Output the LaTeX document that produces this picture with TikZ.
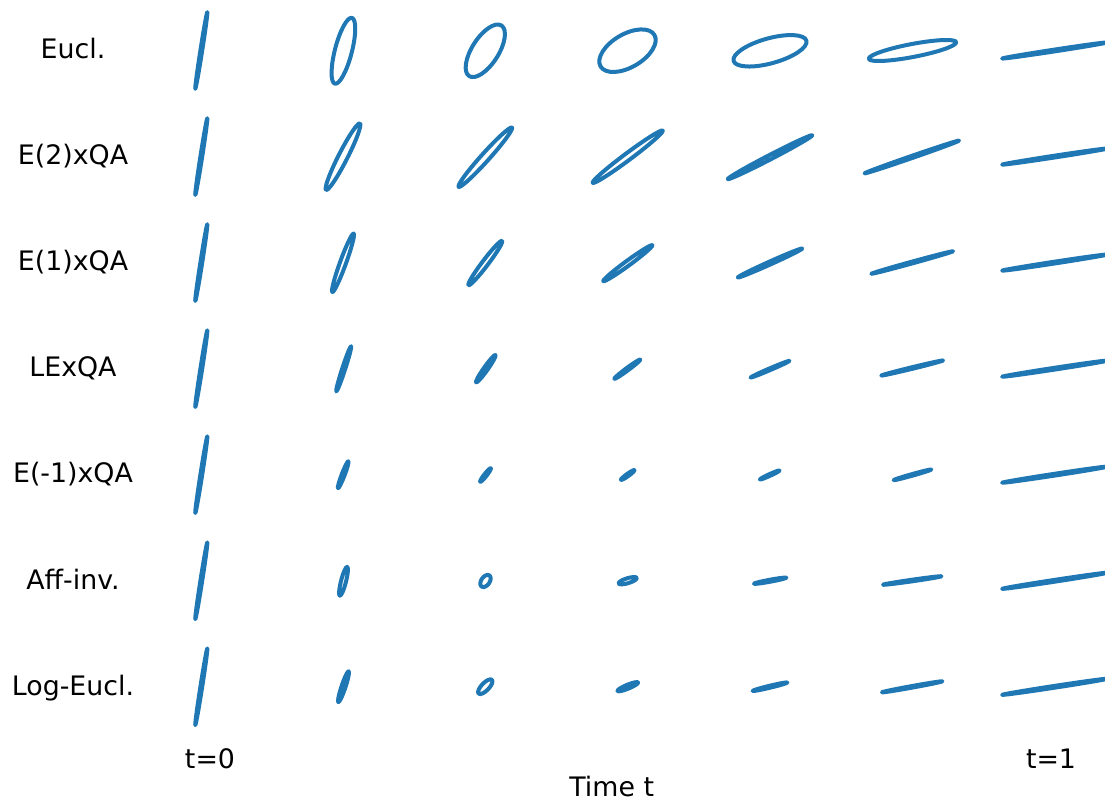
\documentclass[tikz,border=0pt]{standalone}
\usepackage{fontspec}
\setmainfont{DejaVu Sans}
\usepackage{tikz}
\definecolor{mplblue}{HTML}{1F77B4}
\newcommand{\spd}[5]{\draw[tensor,shift={(#1,-#2)},rotate=#3] (0,0) ellipse [x radius=#4pt, y radius=#5pt];}
\tikzset{
  tensor/.style={draw=mplblue,line width=4pt,line join=round,line cap=round},
  lbl/.style={anchor=base,inner sep=0pt,font=\fontsize{26.8}{32}\selectfont},
}

\begin{document}
\begin{tikzpicture}[x=1pt,y=1pt]

\useasboundingbox (0,0) rectangle (1105,-802);
\clip (0,0) rectangle (1105,-802);

\node[lbl] (eucl) at (73,-58.7) {Eucl.};
\node[lbl] (etwo) at (73,-164.8) {E(2)xQA};
\node[lbl] (eone) at (73,-270.8) {E(1)xQA};
\node[lbl] (leqa) at (73,-376.9) {LExQA};
\node[lbl] (emin) at (73,-482.9) {E(-1)xQA};
\node[lbl] (affi) at (73,-589) {Aff-inv.};
\node[lbl] (loge) at (73,-695) {Log-Eucl.};

\node[lbl] (tzero) at (210,-768.3) {t=0};
\node[lbl] (tone) at (1051,-768.3) {t=1};
\node[lbl] (time) at (611.7,-796.7) {Time t};

\spd{201.3}{50.5}{81.1}{38.8}{0.9}
\spd{343.4}{50.8}{75.5}{34}{8.5}
\spd{485.3}{50.8}{57.5}{30}{13.3}
\spd{627.5}{50.7}{30.3}{31.2}{16.6}
\spd{770}{50.8}{15.5}{37.8}{12.5}
\spd{912.5}{50.5}{10.8}{44.5}{6.5}
\spd{1054.5}{50.5}{8.7}{53}{0.9}

\spd{201.3}{156.6}{81.1}{38.8}{0.9}
\spd{343}{156.7}{63}{37.3}{4.5}
\spd{485.3}{157.2}{48}{39.9}{4}
\spd{627.7}{156.7}{36.7}{43.7}{3.5}
\spd{770}{157.2}{27.4}{47.6}{2.2}
\spd{911.8}{157}{19.1}{50}{1.1}
\spd{1054.5}{156.6}{8.7}{53}{0.9}

\spd{201.3}{262.6}{81.1}{38.8}{0.9}
\spd{343}{262.8}{70}{31.1}{3}
\spd{485.3}{263}{52.8}{27.8}{3}
\spd{627.8}{263.2}{36.2}{30.4}{2.5}
\spd{770}{263}{24.2}{35.3}{1.5}
\spd{912.2}{262.5}{15.4}{42.4}{0.9}
\spd{1054.5}{262.6}{8.7}{53}{0.9}

\spd{201.3}{368.7}{81.1}{38.8}{0.9}
\spd{343.7}{368.8}{71.9}{23.8}{1.5}
\spd{485.8}{368.7}{54.7}{16.8}{2}
\spd{627.3}{369.2}{36.5}{16.2}{1.3}
\spd{770}{369.2}{23.2}{21.2}{0.9}
\spd{912.2}{368}{13.7}{31.8}{0.8}
\spd{1054.5}{368.7}{8.7}{53}{0.9}

\spd{201.3}{474.7}{81.1}{38.8}{0.9}
\spd{343.2}{474.7}{69}{14.4}{1.5}
\spd{485.5}{475}{52}{8.6}{1.3}
\spd{627.7}{475}{35.7}{8.3}{1.2}
\spd{769.7}{475}{24.5}{10.8}{0.9}
\spd{912.5}{474.8}{15.7}{19.6}{0.8}
\spd{1054.5}{474.7}{8.7}{53}{0.9}

\spd{201.3}{580.8}{81.1}{38.8}{0.9}
\spd{343.5}{581.3}{75.7}{14.9}{2.5}
\spd{485.5}{581}{55}{6.8}{4.2}
\spd{627.7}{580.7}{17}{9.5}{2.5}
\spd{770.2}{580.7}{10.5}{16.5}{1}
\spd{912.2}{580.5}{8.2}{29.5}{0.8}
\spd{1054.5}{580.8}{8.7}{53}{0.9}

\spd{201.3}{686.8}{81.1}{38.8}{0.9}
\spd{343.5}{686.7}{71.5}{16.3}{2}
\spd{485.3}{686.7}{46}{9.6}{3.8}
\spd{627.8}{686.7}{22.4}{11.1}{2}
\spd{770}{686.7}{13.5}{17.9}{1}
\spd{912.2}{686.8}{10.3}{30.7}{0.8}
\spd{1054.5}{686.8}{8.7}{53}{0.9}

\end{tikzpicture}
\end{document}
